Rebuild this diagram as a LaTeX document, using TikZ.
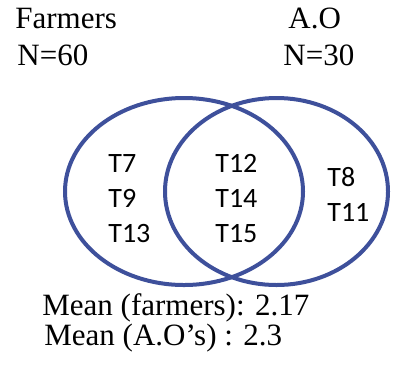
\documentclass[tikz,border=0pt]{standalone}
\usepackage{fontspec}
\setmainfont{Liberation Serif}
\newfontfamily\carlito{Carlito}
\usetikzlibrary{shapes.geometric}
\definecolor{setblue}{RGB}{62,80,155}

\begin{document}
\begin{tikzpicture}[
    x=0.5pt, y=-0.5pt,
    set/.style={draw=setblue, ellipse, line width=2pt, inner sep=0pt,
                minimum height=93.5pt},
    head/.style={anchor=base west, inner sep=0pt, font=\fontsize{15.5}{18}\selectfont},
    lbl/.style={anchor=base west, inner sep=0pt, font=\carlito\fontsize{14}{17}\selectfont}
]
\useasboundingbox (0,0) rectangle (395,381);
% Sets
\node[set, minimum width=119pt] (farmers) at (184,191.5) {};
\node[set, minimum width=111.5pt] (ao) at (276.5,191.5) {};
% Headings
\node[head] (hf) at (15,28) {Farmers};
\node[head] (nf) at (17,65) {N=60};
\node[head] (ha) at (288,28) {A.O};
\node[head] (na) at (283,65) {N=30};
% Farmers only
\node[lbl] (t7) at (108,172) {T7};
\node[lbl] (t9) at (108,207) {T9};
\node[lbl] (t13) at (108,242) {T13};
% Both
\node[lbl] (t12) at (215,172) {T12};
\node[lbl] (t14) at (215,207) {T14};
\node[lbl] (t15) at (215,242) {T15};
% A.O only
\node[lbl] (t8) at (327,186) {T8};
\node[lbl] (t11) at (327,221) {T11};
% Means
\node[head] (mf) at (42,315) {Mean (farmers): 2.17};
\node[head] (ma) at (44,345) {Mean (A.O's) : 2.3};
\end{tikzpicture}
\end{document}
